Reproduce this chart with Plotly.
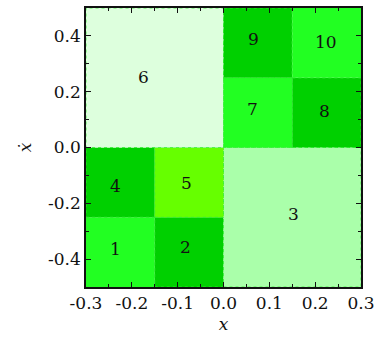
import plotly.graph_objects as go

# Cells of the partition: bounds in (x, xdot) and fill colour
cell_ids = ["1", "2", "3", "4", "5", "6", "7", "8", "9", "10"]
x_lo = [-0.3, -0.15, 0.0, -0.3, -0.15, -0.3, 0.0, 0.15, 0.0, 0.15]
x_hi = [-0.15, 0.0, 0.3, -0.15, 0.0, 0.0, 0.15, 0.3, 0.15, 0.3]
y_lo = [-0.5, -0.5, -0.5, -0.25, -0.25, 0.0, 0.0, 0.0, 0.25, 0.25]
y_hi = [-0.25, -0.25, 0.0, 0.0, 0.0, 0.5, 0.25, 0.25, 0.5, 0.5]
fills = ["#22ff22", "#00d000", "#aaffaa", "#00d000", "#66ff00",
         "#ddffdd", "#22ff22", "#00d000", "#00d000", "#22ff22"]

# Label anchor for each cell number
label_x = [-0.236, -0.084, 0.152, -0.236, -0.081, -0.174, 0.064, 0.221, 0.066, 0.223]
label_y = [-0.365, -0.358, -0.237, -0.137, -0.126, 0.254, 0.138, 0.131, 0.390, 0.379]

x_ticks = [-0.3, -0.2, -0.1, 0.0, 0.1, 0.2, 0.3]
x_tick_text = ["-0.3", "-0.2", "-0.1", "0.0", "0.1", "0.2", "0.3"]
y_ticks = [-0.4, -0.2, 0.0, 0.2, 0.4]
y_tick_text = ["-0.4", "-0.2", "0.0", "0.2", "0.4"]

FONT = "'DejaVu Serif', serif"
FSIZE = 17

fig = go.Figure()
for i in range(len(cell_ids)):
    fig.add_shape(type="rect", xref="x", yref="y",
                  x0=x_lo[i], x1=x_hi[i], y0=y_lo[i], y1=y_hi[i],
                  fillcolor=fills[i], line=dict(color="#33ee33", width=0.8, dash="dot"),
                  layer="below")
    fig.add_annotation(x=label_x[i], y=label_y[i], text=cell_ids[i], showarrow=False,
                       font=dict(family=FONT, size=FSIZE, color="#111111"))

# invisible trace so the axes are drawn
fig.add_trace(go.Scatter(x=[-0.3, 0.3], y=[-0.5, 0.5], mode="markers",
                         marker=dict(opacity=0), hoverinfo="skip", showlegend=False))

axis_common = dict(showgrid=False, zeroline=False, showline=True, linecolor="#111111",
                   linewidth=1.5, mirror="ticks", ticks="inside", ticklen=5,
                   tickwidth=1, tickcolor="#111111",
                   tickfont=dict(family=FONT, size=FSIZE, color="#111111"))

fig.update_xaxes(range=[-0.3, 0.3], tickvals=x_ticks, ticktext=x_tick_text,
                 minor=dict(ticks="inside", ticklen=3, dtick=0.05, tick0=0, tickcolor="#111111"),
                 title=dict(text="<i>x</i>", font=dict(family=FONT, size=FSIZE, color="#111111"),
                            standoff=6),
                 **axis_common)
fig.update_yaxes(range=[-0.5, 0.5], tickvals=y_ticks, ticktext=y_tick_text,
                 minor=dict(ticks="inside", ticklen=3, dtick=0.1, tick0=0, tickcolor="#111111"),
                 title=dict(text="<i>ẋ</i>", font=dict(family=FONT, size=FSIZE, color="#111111"),
                            standoff=12),
                 **axis_common)

fig.update_layout(width=381, height=345, margin=dict(l=86, r=15, t=6, b=58),
                  plot_bgcolor="white", paper_bgcolor="white", showlegend=False)

fig.write_html("out.html")
